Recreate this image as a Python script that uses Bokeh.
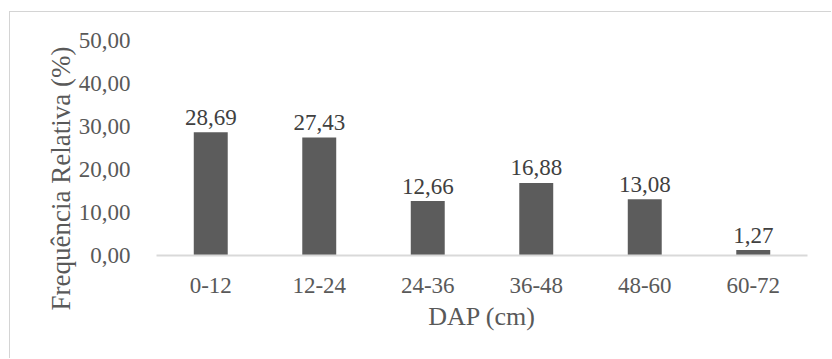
from bokeh.plotting import figure
from bokeh.models import ColumnDataSource, CustomJSTickFormatter, Title, FixedTicker
from bokeh.core.properties import value
from bokeh.embed import file_html
from bokeh.resources import INLINE

categories = ["0-12", "12-24", "24-36", "36-48", "48-60", "60-72"]
freq = [28.69, 27.43, 12.66, 16.88, 13.08, 1.27]
labels = ["28,69", "27,43", "12,66", "16,88", "13,08", "1,27"]
y_ticks = [0, 10, 20, 30, 40, 50]

FONT = "'Liberation Serif', 'Times New Roman', serif"

src = ColumnDataSource(dict(cat=categories, val=freq, lab=labels))

p = figure(x_range=categories, y_range=(0, 50), width=822, height=347,
           output_backend="svg", toolbar_location=None,
           min_border_left=146, min_border_right=25, min_border_top=28, min_border_bottom=104)
p.margin = (11, 0, 0, 9)
p.styles = {"border-top": "1px solid #d4d4d4", "border-left": "1px solid #d4d4d4"}
p.outline_line_color = None
p.xgrid.grid_line_color = None
p.ygrid.grid_line_color = None
p.x_range.range_padding = 0

p.vbar(x="cat", top="val", width=0.313, source=src, fill_color="#5c5c5c", line_color=None)

p.text(x="cat", y="val", text="lab", source=src, text_align="center", text_baseline="alphabetic",
       y_offset=-15, text_font=value(FONT), text_font_size="23px", text_color="#404040")

ya = p.yaxis[0]
ya.ticker = FixedTicker(ticks=y_ticks)
ya.formatter = CustomJSTickFormatter(code="return tick.toFixed(2).replace('.', ',');")
ya.axis_line_color = None
ya.major_tick_line_color = None
ya.minor_tick_line_color = None
ya.major_label_standoff = 20
ya.major_label_text_font = FONT
ya.major_label_text_font_size = "23px"
ya.major_label_text_color = "#595959"

xa = p.xaxis[0]
xa.axis_line_color = "#d9d9d9"
xa.axis_line_width = 2
xa.major_tick_line_color = None
xa.minor_tick_line_color = None
xa.major_label_standoff = 16
xa.major_label_text_font = FONT
xa.major_label_text_font_size = "23px"
xa.major_label_text_color = "#595959"
xa.axis_label = "DAP (cm)"
xa.axis_label_text_font = FONT
xa.axis_label_text_font_size = "26px"
xa.axis_label_text_font_style = "normal"
xa.axis_label_text_color = "#595959"
xa.axis_label_standoff = 6

ytitle = Title(text="Frequência Relativa (%)", align="left", offset=-55,
               text_font=FONT, text_font_size="27px", text_font_style="normal",
               text_color="#595959", standoff=0)
p.add_layout(ytitle, "left")

open("out.html", "w").write(file_html(p, INLINE))
